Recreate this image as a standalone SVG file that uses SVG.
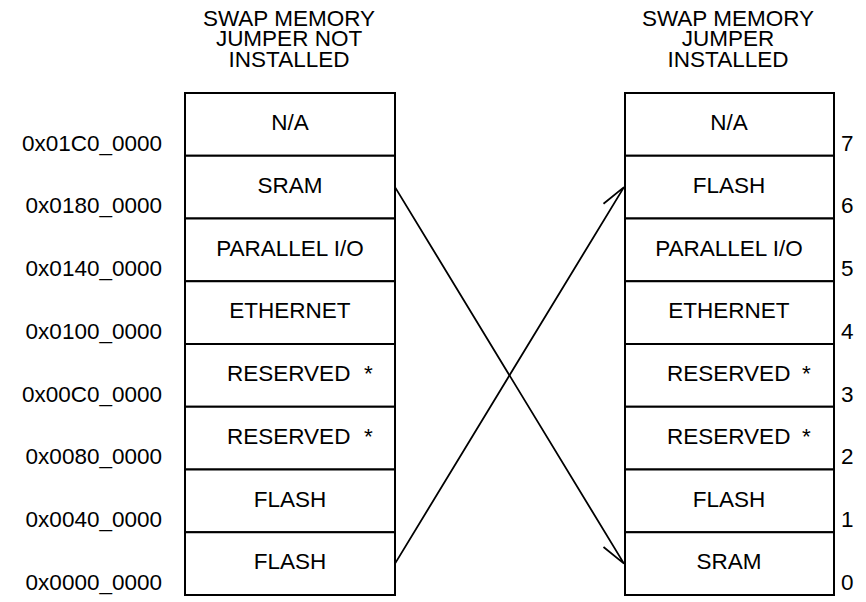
<svg xmlns="http://www.w3.org/2000/svg" width="866" height="602" viewBox="0 0 866 602">
<style>
  text { font-family: "Liberation Sans", Arial, sans-serif; font-size: 22.5px; fill: #000; }
  .hdr { text-anchor: middle; }
  .cellL { text-anchor: middle; }
  .addr { text-anchor: end; }
  .num { text-anchor: start; }
  .cell { fill: #fff; stroke: #000; stroke-width: 2; }
  .conn { fill: none; stroke: #000; stroke-width: 1.8; stroke-linejoin: miter; }
</style>
<rect width="866" height="602" fill="#fff"/>

<g id="header-left">
  <text class="hdr" x="289" y="26">SWAP MEMORY</text>
  <text class="hdr" x="289" y="46">JUMPER NOT</text>
  <text class="hdr" x="289" y="66.5">INSTALLED</text>
</g>
<g id="header-right">
  <text class="hdr" x="728" y="26">SWAP MEMORY</text>
  <text class="hdr" x="728" y="46">JUMPER</text>
  <text class="hdr" x="728" y="66.5">INSTALLED</text>
</g>

<!-- Left column -->
<g id="left-7"><rect class="cell" x="185" y="93" width="210" height="62.75"/><text class="cellL" x="290" y="130">N/A</text></g>
<g id="left-6"><rect class="cell" x="185" y="155.75" width="210" height="62.75"/><text class="cellL" x="290" y="192.75">SRAM</text></g>
<g id="left-5"><rect class="cell" x="185" y="218.5" width="210" height="62.75"/><text class="cellL" x="290" y="255.5">PARALLEL I/O</text></g>
<g id="left-4"><rect class="cell" x="185" y="281.25" width="210" height="62.75"/><text class="cellL" x="290" y="318.25">ETHERNET</text></g>
<g id="left-3"><rect class="cell" x="185" y="344" width="210" height="62.75"/><text x="227" y="381">RESERVED<tspan x="364">*</tspan></text></g>
<g id="left-2"><rect class="cell" x="185" y="406.75" width="210" height="62.75"/><text x="227" y="443.75">RESERVED<tspan x="364">*</tspan></text></g>
<g id="left-1"><rect class="cell" x="185" y="469.5" width="210" height="62.75"/><text class="cellL" x="290" y="506.5">FLASH</text></g>
<g id="left-0"><rect class="cell" x="185" y="532.25" width="210" height="62.75"/><text class="cellL" x="290" y="569.25">FLASH</text></g>

<!-- Right column -->
<g id="right-7"><rect class="cell" x="625" y="93" width="209" height="62.75"/><text class="cellL" x="729" y="130">N/A</text></g>
<g id="right-6"><rect class="cell" x="625" y="155.75" width="209" height="62.75"/><text class="cellL" x="729" y="192.75">FLASH</text></g>
<g id="right-5"><rect class="cell" x="625" y="218.5" width="209" height="62.75"/><text class="cellL" x="729" y="255.5">PARALLEL I/O</text></g>
<g id="right-4"><rect class="cell" x="625" y="281.25" width="209" height="62.75"/><text class="cellL" x="729" y="318.25">ETHERNET</text></g>
<g id="right-3"><rect class="cell" x="625" y="344" width="209" height="62.75"/><text x="667" y="381">RESERVED<tspan x="802">*</tspan></text></g>
<g id="right-2"><rect class="cell" x="625" y="406.75" width="209" height="62.75"/><text x="667" y="443.75">RESERVED<tspan x="802">*</tspan></text></g>
<g id="right-1"><rect class="cell" x="625" y="469.5" width="209" height="62.75"/><text class="cellL" x="729" y="506.5">FLASH</text></g>
<g id="right-0"><rect class="cell" x="625" y="532.25" width="209" height="62.75"/><text class="cellL" x="729" y="569.25">SRAM</text></g>

<g id="addresses">
  <text class="addr" x="162" y="150.5">0x01C0_0000</text>
  <text class="addr" x="162" y="213">0x0180_0000</text>
  <text class="addr" x="162" y="276">0x0140_0000</text>
  <text class="addr" x="162" y="338.5">0x0100_0000</text>
  <text class="addr" x="162" y="401.5">0x00C0_0000</text>
  <text class="addr" x="162" y="464">0x0080_0000</text>
  <text class="addr" x="162" y="527">0x0040_0000</text>
  <text class="addr" x="162" y="590">0x0000_0000</text>
</g>

<g id="indices">
  <text class="num" x="841" y="150.5">7</text>
  <text class="num" x="841" y="213">6</text>
  <text class="num" x="841" y="276">5</text>
  <text class="num" x="841" y="338.5">4</text>
  <text class="num" x="841" y="401.5">3</text>
  <text class="num" x="841" y="464">2</text>
  <text class="num" x="841" y="527">1</text>
  <text class="num" x="841" y="590">0</text>
</g>

<g id="connectors">
  <path class="conn" d="M395,187.1 L624,563.6 L603.5,547"/>
  <path class="conn" d="M395,563.6 L624,187.1 L603.5,203.7"/>
</g>
</svg>
